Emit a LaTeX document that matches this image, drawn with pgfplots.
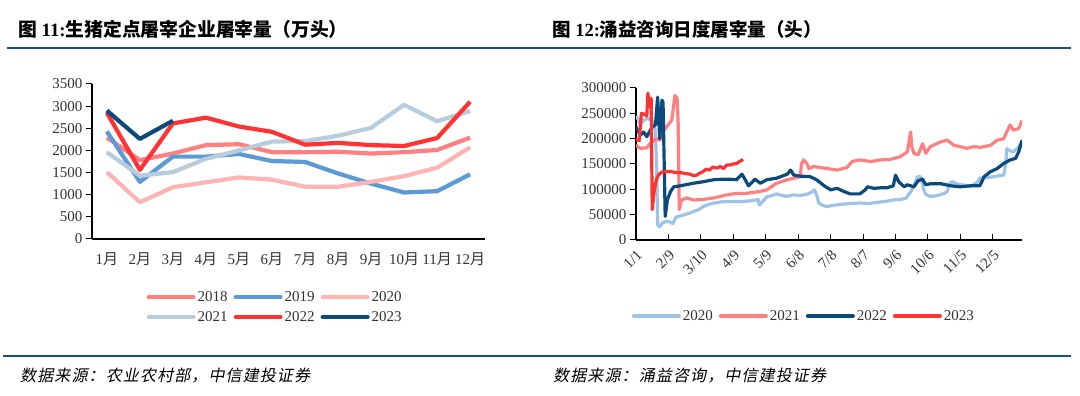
\documentclass[border=0pt]{standalone}
\usepackage{fontspec}
\setmainfont{Liberation Serif}
\newfontfamily\cjk{Noto Sans CJK SC}
\newfontfamily\cjkit[FakeSlant=0.2,LetterSpace=7]{Noto Sans CJK SC}
\usepackage{pgfplots}
\pgfplotsset{compat=1.18}
\definecolor{rule}{RGB}{22,82,130}
\definecolor{cA}{RGB}{255,128,128}
\definecolor{cB}{RGB}{91,155,213}
\definecolor{cC}{RGB}{255,179,179}
\definecolor{cD}{RGB}{183,204,221}
\definecolor{cE}{RGB}{255,51,51}
\definecolor{cF}{RGB}{12,74,124}
\definecolor{cG}{RGB}{157,195,230}
\begin{document}
\begin{tikzpicture}
\path[use as bounding box] (0pt,0pt) rectangle (1080pt,396pt);
\draw[rule, line width=2pt] (7pt,348pt) -- (1071pt,348pt);
\draw[rule, line width=2pt] (3pt,40.3pt) -- (1071pt,40.3pt);
\node[anchor=west, inner sep=0pt, font=\fontsize{18.8}{18.8}\selectfont] at (18pt,367pt) {{\cjk\bfseries 图} \textbf{11:}{\cjk\bfseries 生猪定点屠宰企业屠宰量（万头）}};
\node[anchor=west, inner sep=0pt, font=\fontsize{18.5}{18.5}\selectfont] at (552pt,367pt) {{\cjk\bfseries 图} \textbf{12:}{\cjk\bfseries 涌益咨询日度屠宰量（头）}};
\node[anchor=west, inner sep=0pt, font=\fontsize{16}{16}\selectfont] at (20pt,20.5pt) {\cjkit 数据来源：农业农村部，中信建投证券};
\node[anchor=west, inner sep=0pt, font=\fontsize{16}{16}\selectfont] at (553pt,20.5pt) {\cjkit 数据来源：涌益咨询，中信建投证券};

\begin{axis}[
  at={(92pt,157pt)}, anchor=south west,
  scale only axis, width=393pt, height=155pt,
  xmin=0.55, xmax=12.45, ymin=0, ymax=3500,
  axis lines*=left, axis line style={line width=1.2pt},
  xtick={1,...,12},
  xticklabels={1{\cjk 月},2{\cjk 月},3{\cjk 月},4{\cjk 月},5{\cjk 月},6{\cjk 月},7{\cjk 月},8{\cjk 月},9{\cjk 月},10{\cjk 月},11{\cjk 月},12{\cjk 月}},
  major x tick style={draw=none},
  ytick={0,500,...,3500},
  tick align=outside, major tick length=6pt,
  tick style={line width=1pt, black},
  tick label style={font=\fontsize{15}{15}\selectfont, text=black!80},
  x tick label style={yshift=-4pt},
  /pgf/number format/assume math mode=true,
  /pgf/number format/1000 sep={},
  every axis plot/.append style={line width=4.2pt, line join=round},
  legend columns=3,
  legend style={at={(0.466,-0.44)}, anchor=center, draw=none, fill=none,
    font=\fontsize{15}{15}\selectfont, row sep=4pt, text=black!80,
    /tikz/every even column/.append style={column sep=4pt}},
  legend image code/.code={\draw[#1, line width=4pt, line cap=round] (0pt,0pt) -- (45pt,0pt);},
]
\addplot[cA] coordinates {(1,2290)(2,1780)(3,1930)(4,2120)(5,2140)(6,1960)(7,1960)(8,1970)(9,1930)(10,1960)(11,2010)(12,2290)};
\addlegendentry{2018}
\addplot[cB] coordinates {(1,2430)(2,1290)(3,1860)(4,1860)(5,1920)(6,1760)(7,1740)(8,1480)(9,1250)(10,1050)(11,1080)(12,1460)};
\addlegendentry{2019}
\addplot[cC] coordinates {(1,1510)(2,830)(3,1170)(4,1280)(5,1390)(6,1340)(7,1180)(8,1180)(9,1290)(10,1420)(11,1610)(12,2070)};
\addlegendentry{2020}
\addplot[cD] coordinates {(1,1960)(2,1430)(3,1510)(4,1810)(5,2000)(6,2200)(7,2210)(8,2330)(9,2510)(10,3030)(11,2660)(12,2890)};
\addlegendentry{2021}
\addplot[cE] coordinates {(1,2850)(2,1560)(3,2610)(4,2740)(5,2540)(6,2420)(7,2130)(8,2170)(9,2120)(10,2100)(11,2280)(12,3100)};
\addlegendentry{2022}
\addplot[cF] coordinates {(1,2900)(2,2260)(3,2670)};
\addlegendentry{2023}
\end{axis}

\begin{axis}[
  at={(636pt,156pt)}, anchor=south west,
  scale only axis, width=386pt, height=152pt,
  xmin=0, xmax=357, ymin=0, ymax=300000,
  axis lines*=left, axis line style={line width=1.2pt},
  xtick={0,30,...,330},
  xticklabels={1/1,2/9,3/10,4/9,5/9,6/8,7/8,8/7,9/6,10/6,11/5,12/5},
  ytick={0,50000,...,300000},
  scaled y ticks=false,
  tick align=outside, major tick length=6pt,
  tick style={line width=1pt, black},
  major x tick style={yshift=6pt},
  tick label style={font=\fontsize{15}{15}\selectfont, text=black!80},
  x tick label style={rotate=45, anchor=north east, inner sep=2pt},
  /pgf/number format/assume math mode=true,
  /pgf/number format/1000 sep={},
  /pgf/number format/fixed,
  every axis plot/.append style={line width=3.2pt, line join=round},
  legend columns=4,
  legend style={at={(0.435,-0.5)}, anchor=center, draw=none, fill=none,
    font=\fontsize{15}{15}\selectfont, text=black!80,
    /tikz/every even column/.append style={column sep=4pt}},
  legend image code/.code={\draw[#1, line width=4pt, line cap=round] (0pt,0pt) -- (45pt,0pt);},
]
\addplot[cG] coordinates {(0,245000)(2,238000)(4,228000)(7,236000)(10,240000)(13,238000)(16,232000)(18,215000)(19,150000)(20,30000)(22,26000)(24,33000)(28,37000)(31,36000)(34,32000)(37,45000)(42,48000)(48,52000)(53,56000)(58,60000)(62,66000)(67,70000)(72,73000)(78,75000)(84,76000)(92,76000)(99,76000)(105,77000)(111,79000)(113,80000)(114,69000)(118,78000)(121,85000)(126,88000)(130,91000)(135,88000)(139,86000)(145,89000)(152,88000)(158,90000)(162,94000)(165,99000)(167,90000)(169,73000)(172,69000)(176,66000)(184,69000)(192,71000)(200,72000)(207,73000)(215,72000)(222,74000)(230,76000)(238,79000)(245,80000)(250,83000)(254,95000)(257,106000)(260,124000)(262,126000)(264,122000)(266,100000)(268,90000)(272,86000)(277,87000)(281,89000)(285,92000)(288,96000)(290,112000)(293,115000)(297,110000)(300,109000)(305,108000)(309,105000)(313,110000)(316,115000)(318,122000)(322,123000)(327,124000)(331,125000)(336,127000)(340,128000)(342,150000)(343,180000)(346,176000)(349,174000)(352,180000)(355,187000)(357,192000)};
\addlegendentry{2020}
\addplot[cA] coordinates {(0,187000)(4,181000)(10,182000)(13,190000)(19,200000)(22,197000)(25,213000)(28,223000)(33,236000)(36,285000)(38,280000)(39,230000)(40,60000)(42,79000)(47,83000)(53,79000)(62,80000)(72,83000)(84,89000)(93,92000)(102,92000)(115,96000)(121,99000)(130,112000)(140,119000)(146,122000)(152,125000)(153,150000)(155,158000)(158,151000)(160,141000)(164,145000)(177,141000)(186,138000)(195,143000)(200,155000)(207,158000)(217,155000)(226,158000)(235,159000)(244,164000)(251,174000)(253,200000)(254,213000)(255,185000)(257,171000)(261,168000)(265,190000)(268,171000)(272,184000)(282,194000)(288,197000)(294,187000)(300,184000)(306,181000)(312,184000)(319,183000)(328,187000)(334,197000)(340,200000)(346,227000)(349,217000)(354,220000)(357,236000)};
\addlegendentry{2021}
\addplot[cF] coordinates {(0,223000)(4,207000)(7,213000)(10,204000)(15,223000)(18,227000)(20,282000)(22,200000)(24,276000)(25,272000)(27,46500)(29,79000)(32,96000)(35,105000)(41,107000)(53,112000)(62,115000)(72,119000)(81,120000)(87,120000)(93,119000)(98,130000)(101,119000)(104,107000)(107,113000)(110,120000)(115,112000)(121,119000)(130,122000)(140,130000)(143,138000)(146,128000)(152,126000)(161,125000)(167,119000)(174,107000)(180,99000)(186,102000)(192,96000)(198,91000)(207,91000)(212,99000)(214,105000)(220,102000)(226,103000)(232,103000)(238,107000)(240,128000)(243,115000)(248,105000)(251,109000)(257,105000)(261,117000)(265,120000)(268,109000)(272,111000)(282,111000)(291,107000)(300,105000)(309,107000)(318,107000)(322,125000)(328,135000)(334,141000)(340,151000)(346,158000)(351,161000)(354,174000)(357,197000)};
\addlegendentry{2022}
\addplot[cE] coordinates {(0,198000)(3,196000)(5,250000)(8,248000)(10,245000)(11,290000)(12,270000)(13,262000)(14,280000)(15,60000)(17,100000)(19,120000)(21,129000)(24,134000)(28,135000)(32,135000)(37,133000)(41,133000)(46,131000)(50,130000)(53,127000)(56,128000)(59,132000)(62,135000)(65,140000)(68,138000)(71,144000)(75,142000)(78,145000)(81,141000)(84,148000)(87,148000)(90,150000)(93,151000)(96,155000)(99,159000)};
\addlegendentry{2023}
\end{axis}
\end{tikzpicture}
\end{document}
